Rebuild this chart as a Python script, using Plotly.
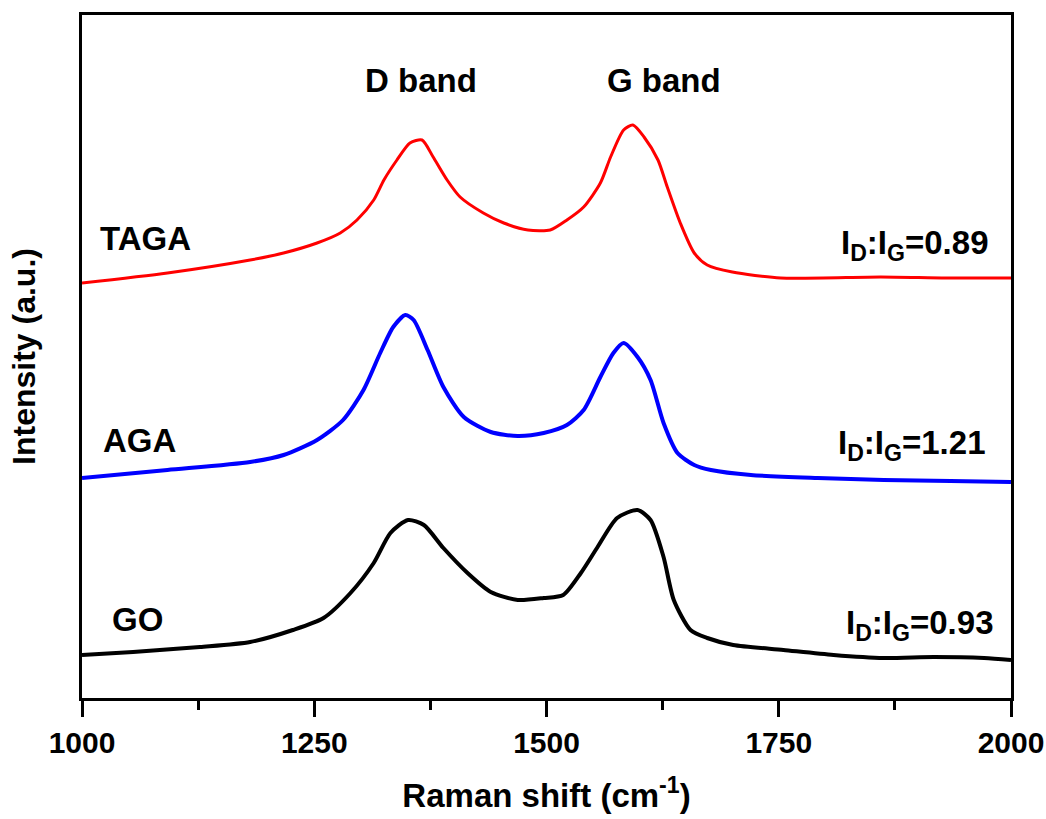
import plotly.graph_objects as go

# Raman shift (cm^-1) and intensity (a.u., offset stacked)
go_x = [1000, 1055, 1127, 1181, 1227, 1260, 1289, 1314, 1332, 1351, 1368, 1389, 1415, 1440,
        1469, 1497, 1518, 1537, 1555, 1576, 1598, 1612, 1626, 1637, 1655, 1673, 1701, 1755,
        1809, 1863, 1917, 1971, 2000]
go_y = [43, 46, 51, 56, 68, 80, 105, 135, 165, 178, 173, 150, 125, 106,
        98, 100, 103, 125, 151, 180, 188, 178, 141, 98, 68, 60, 53, 48,
        43, 40, 41, 40, 38]

aga_x = [1000, 1092, 1181, 1217, 1253, 1281, 1303, 1321, 1335, 1348, 1357, 1372, 1389, 1411,
         1440, 1469, 1497, 1522, 1540, 1558, 1572, 1583, 1598, 1612, 1626, 1641, 1659, 1677,
         1720, 1792, 1863, 1935, 2000]
aga_y = [220, 228, 236, 243, 258, 278, 308, 345, 371, 383, 378, 348, 311, 281,
         266, 262, 265, 273, 288, 321, 345, 355, 341, 318, 275, 245, 233, 228,
         223, 220, 218, 217, 216]

taga_x = [1000, 1092, 1181, 1217, 1253, 1278, 1296, 1314, 1325, 1339, 1353, 1366, 1378, 1393,
          1407, 1432, 1454, 1480, 1504, 1522, 1540, 1558, 1569, 1583, 1593, 1605, 1620, 1630,
          1644, 1659, 1673, 1700, 1752, 1860, 1930, 2000]
taga_y = [415, 425, 438, 445, 455, 465, 478, 498, 518, 538, 555, 558, 541, 518,
          501, 485, 475, 468, 468, 478, 491, 515, 541, 568, 573, 561, 538, 511,
          475, 445, 433, 426, 420, 421, 420, 420]

x_ticks = [1000, 1250, 1500, 1750, 2000]

FONT = "Liberation Sans, Arial, sans-serif"

fig = go.Figure()
fig.add_trace(go.Scatter(x=go_x, y=go_y, mode="lines", line=dict(color="black", width=4, shape="spline", smoothing=0.7), name="GO"))
fig.add_trace(go.Scatter(x=aga_x, y=aga_y, mode="lines", line=dict(color="#0000ff", width=4, shape="spline", smoothing=0.7), name="AGA"))
fig.add_trace(go.Scatter(x=taga_x, y=taga_y, mode="lines", line=dict(color="#ff0000", width=3, shape="spline", smoothing=0.7), name="TAGA"))

def txt(x, y, s, xanchor="center", size=33):
    fig.add_annotation(x=x, y=y, xref="x", yref="y", text=s, showarrow=False,
                       xanchor=xanchor, yanchor="middle",
                       font=dict(family=FONT, size=size, color="black", weight="bold"))

txt(1365, 618, "D band")
txt(1627, 618, "G band")
txt(1017, 460, "TAGA", "left")
txt(1020, 258, "AGA", "left")
txt(1030, 79, "GO", "left")
txt(1978, 453, "I<sub>D</sub>:I<sub>G</sub>=0.89", "right")
txt(1975, 253, "I<sub>D</sub>:I<sub>G</sub>=1.21", "right")
txt(1984, 73, "I<sub>D</sub>:I<sub>G</sub>=0.93", "right")

fig.update_layout(
    width=1046, height=819,
    margin=dict(l=82, r=35, t=15, b=121, pad=0),
    plot_bgcolor="white", paper_bgcolor="white",
    showlegend=False,
    font=dict(family=FONT, color="black"),
)
fig.update_xaxes(
    range=[1000, 2000], tickmode="array", tickvals=x_ticks, ticktext=[str(v) for v in x_ticks],
    ticks="outside", ticklen=16, tickwidth=3, tickcolor="black",
    minor=dict(tick0=1125, dtick=250, ticks="outside", ticklen=9, tickwidth=3, tickcolor="black"),
    showline=True, linewidth=3, linecolor="black", mirror=True,
    showgrid=False, zeroline=False, automargin=False,
    tickfont=dict(family=FONT, size=30, color="black", weight="bold"),
    title=dict(text="Raman shift (cm<sup>-1</sup>)", standoff=26,
               font=dict(family=FONT, size=33, color="black", weight="bold")),
)
fig.update_yaxes(
    range=[0, 683], showticklabels=False, ticks="",
    showline=True, linewidth=3, linecolor="black", mirror=True,
    showgrid=False, zeroline=False, automargin=False,
    title=dict(text="Intensity (a.u.)", standoff=34,
               font=dict(family=FONT, size=32, color="black", weight="bold")),
)

fig.write_html("out.html")
